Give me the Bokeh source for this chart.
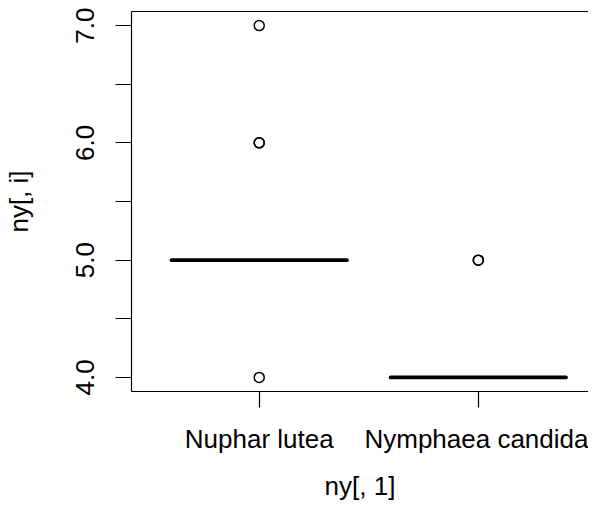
from bokeh.plotting import figure
from bokeh.models import FixedTicker, LinearAxis, Range1d
from bokeh.embed import file_html
from bokeh.resources import INLINE

# ---- data (boxplot statistics) ----
categories = ["Nuphar lutea", "Nymphaea candida"]
whisker_low = [5.0, 4.0]
q1 = [5.0, 4.0]
median = [5.0, 4.0]
q3 = [5.0, 4.0]
whisker_high = [5.0, 4.0]
outlier_group = ["Nuphar lutea", "Nuphar lutea", "Nuphar lutea", "Nuphar lutea",
                 "Nymphaea candida", "Nymphaea candida"]
outlier_value = [7.0, 6.0, 6.0, 4.0, 5.0, 5.0]
y_ticks = [4.0, 5.0, 6.0, 7.0]
y_minor_ticks = [4.5, 5.5, 6.5]

FONT = "Liberation Sans"
FS = "26px"
BOXW = 0.4

pos = [i + 1 for i in range(len(categories))]
opos = [categories.index(g) + 1 for g in outlier_group]

p = figure(width=588, height=504, output_backend="svg", toolbar_location=None,
           x_range=Range1d(0.417, 2.503), y_range=Range1d(3.88, 7.12),
           x_axis_location=None, y_axis_location=None)
p.min_border_left = 130
p.min_border_top = 11
p.min_border_right = 0
p.min_border_bottom = 113
p.outline_line_color = None
p.xgrid.visible = False
p.ygrid.visible = False
p.background_fill_color = "white"
p.border_fill_color = "white"

# bottom axis
xa = LinearAxis(ticker=FixedTicker(ticks=pos),
                major_label_overrides={k: c for k, c in zip(pos, categories)},
                axis_label="ny[, 1]")
# left axis
ya = LinearAxis(ticker=FixedTicker(ticks=y_ticks, minor_ticks=y_minor_ticks),
                major_label_overrides={int(t): f"{t:.1f}" for t in y_ticks},
                axis_label="ny[, i]")
for ax in (xa, ya):
    ax.axis_line_color = "black"
    ax.axis_line_width = 1.2
    ax.major_tick_line_color = "black"
    ax.major_tick_line_width = 1.2
    ax.major_tick_out = 16
    ax.major_tick_in = 0
    ax.minor_tick_line_color = "black"
    ax.minor_tick_line_width = 1.2
    ax.minor_tick_out = 16
    ax.minor_tick_in = 0
    ax.major_label_text_font = FONT
    ax.major_label_text_font_size = FS
    ax.major_label_text_color = "black"
    ax.axis_label_text_font = FONT
    ax.axis_label_text_font_size = FS
    ax.axis_label_text_font_style = "normal"
    ax.axis_label_text_color = "black"
xa.minor_tick_line_color = None
xa.major_label_standoff = 16
xa.axis_label_standoff = 14
ya.major_label_orientation = "vertical"
ya.major_label_standoff = 21
ya.axis_label_standoff = 40
p.add_layout(xa, "below")
p.add_layout(ya, "left")

# top border line
ta = LinearAxis(ticker=FixedTicker(ticks=[]), major_label_text_font_size="0px",
                major_tick_out=0, major_tick_in=0, minor_tick_out=0, minor_tick_in=0,
                axis_line_color="black", axis_line_width=1.2, major_label_standoff=0)
p.add_layout(ta, "above")

# boxes (zero height here) and whiskers
p.quad(left=[x - BOXW for x in pos], right=[x + BOXW for x in pos],
       bottom=q1, top=q3, fill_color=None, line_color="black", line_width=1)
p.segment(x0=pos, x1=pos, y0=whisker_low, y1=q1, line_color="black", line_width=1, line_dash="6 4")
p.segment(x0=pos, x1=pos, y0=q3, y1=whisker_high, line_color="black", line_width=1, line_dash="6 4")
# medians
p.segment(x0=[x - BOXW for x in pos], x1=[x + BOXW for x in pos], y0=median, y1=median,
          line_color="black", line_width=3.8, line_cap="round")
# outliers
p.scatter(x=opos, y=outlier_value, marker="circle", size=10, fill_color=None,
          line_color="black", line_width=1.5)

open("out.html", "w").write(file_html(p, INLINE))
